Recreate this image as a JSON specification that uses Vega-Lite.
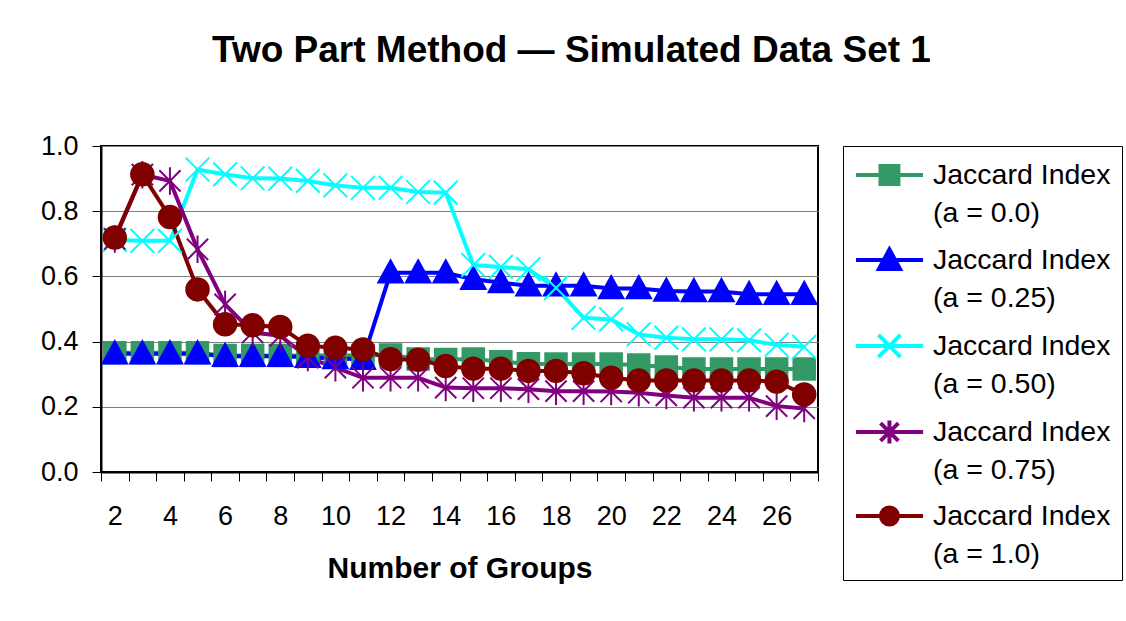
{
  "$schema": "https://vega.github.io/schema/vega-lite/v6.json",
  "width": 717,
  "height": 326,
  "padding": {"left": 40, "top": 32, "right": 5, "bottom": 5},
  "background": "white",
  "title": {
    "text": "Two Part Method — Simulated Data Set 1",
    "font": "Liberation Sans",
    "fontSize": 37,
    "fontWeight": "bold",
    "color": "black",
    "anchor": "middle",
    "frame": "bounds",
    "offset": 62,
    "dx": -10
  },
  "config": {
    "view": {"stroke": "black", "strokeWidth": 2},
    "font": "Liberation Sans",
    "axis": {
      "labelFont": "Liberation Sans",
      "labelFontSize": 27,
      "labelColor": "black",
      "titleFont": "Liberation Sans",
      "titleColor": "black",
      "domainColor": "black",
      "domainWidth": 2,
      "tickColor": "black",
      "tickWidth": 1,
      "tickSize": 9
    },
    "legend": {
      "labelFont": "Liberation Sans",
      "labelFontSize": 28.5,
      "labelColor": "black"
    }
  },
  "data": {
    "values": [
      {"groups": 2, "series": "a = 0.0", "jaccard": 0.366},
      {"groups": 3, "series": "a = 0.0", "jaccard": 0.366},
      {"groups": 4, "series": "a = 0.0", "jaccard": 0.366},
      {"groups": 5, "series": "a = 0.0", "jaccard": 0.366},
      {"groups": 6, "series": "a = 0.0", "jaccard": 0.357},
      {"groups": 7, "series": "a = 0.0", "jaccard": 0.357},
      {"groups": 8, "series": "a = 0.0", "jaccard": 0.357},
      {"groups": 9, "series": "a = 0.0", "jaccard": 0.357},
      {"groups": 10, "series": "a = 0.0", "jaccard": 0.357},
      {"groups": 11, "series": "a = 0.0", "jaccard": 0.357},
      {"groups": 12, "series": "a = 0.0", "jaccard": 0.359},
      {"groups": 13, "series": "a = 0.0", "jaccard": 0.347},
      {"groups": 14, "series": "a = 0.0", "jaccard": 0.345},
      {"groups": 15, "series": "a = 0.0", "jaccard": 0.347},
      {"groups": 16, "series": "a = 0.0", "jaccard": 0.338},
      {"groups": 17, "series": "a = 0.0", "jaccard": 0.332},
      {"groups": 18, "series": "a = 0.0", "jaccard": 0.331},
      {"groups": 19, "series": "a = 0.0", "jaccard": 0.331},
      {"groups": 20, "series": "a = 0.0", "jaccard": 0.331},
      {"groups": 21, "series": "a = 0.0", "jaccard": 0.328},
      {"groups": 22, "series": "a = 0.0", "jaccard": 0.322},
      {"groups": 23, "series": "a = 0.0", "jaccard": 0.316},
      {"groups": 24, "series": "a = 0.0", "jaccard": 0.316},
      {"groups": 25, "series": "a = 0.0", "jaccard": 0.316},
      {"groups": 26, "series": "a = 0.0", "jaccard": 0.316},
      {"groups": 27, "series": "a = 0.0", "jaccard": 0.316},

      {"groups": 2, "series": "a = 0.25", "jaccard": 0.363},
      {"groups": 3, "series": "a = 0.25", "jaccard": 0.363},
      {"groups": 4, "series": "a = 0.25", "jaccard": 0.363},
      {"groups": 5, "series": "a = 0.25", "jaccard": 0.363},
      {"groups": 6, "series": "a = 0.25", "jaccard": 0.355},
      {"groups": 7, "series": "a = 0.25", "jaccard": 0.355},
      {"groups": 8, "series": "a = 0.25", "jaccard": 0.355},
      {"groups": 9, "series": "a = 0.25", "jaccard": 0.352},
      {"groups": 10, "series": "a = 0.25", "jaccard": 0.348},
      {"groups": 11, "series": "a = 0.25", "jaccard": 0.346},
      {"groups": 12, "series": "a = 0.25", "jaccard": 0.611},
      {"groups": 13, "series": "a = 0.25", "jaccard": 0.611},
      {"groups": 14, "series": "a = 0.25", "jaccard": 0.611},
      {"groups": 15, "series": "a = 0.25", "jaccard": 0.591},
      {"groups": 16, "series": "a = 0.25", "jaccard": 0.581},
      {"groups": 17, "series": "a = 0.25", "jaccard": 0.571},
      {"groups": 18, "series": "a = 0.25", "jaccard": 0.571},
      {"groups": 19, "series": "a = 0.25", "jaccard": 0.571},
      {"groups": 20, "series": "a = 0.25", "jaccard": 0.563},
      {"groups": 21, "series": "a = 0.25", "jaccard": 0.563},
      {"groups": 22, "series": "a = 0.25", "jaccard": 0.555},
      {"groups": 23, "series": "a = 0.25", "jaccard": 0.554},
      {"groups": 24, "series": "a = 0.25", "jaccard": 0.554},
      {"groups": 25, "series": "a = 0.25", "jaccard": 0.545},
      {"groups": 26, "series": "a = 0.25", "jaccard": 0.545},
      {"groups": 27, "series": "a = 0.25", "jaccard": 0.545},

      {"groups": 2, "series": "a = 0.50", "jaccard": 0.712},
      {"groups": 3, "series": "a = 0.50", "jaccard": 0.709},
      {"groups": 4, "series": "a = 0.50", "jaccard": 0.709},
      {"groups": 5, "series": "a = 0.50", "jaccard": 0.928},
      {"groups": 6, "series": "a = 0.50", "jaccard": 0.913},
      {"groups": 7, "series": "a = 0.50", "jaccard": 0.901},
      {"groups": 8, "series": "a = 0.50", "jaccard": 0.900},
      {"groups": 9, "series": "a = 0.50", "jaccard": 0.893},
      {"groups": 10, "series": "a = 0.50", "jaccard": 0.879},
      {"groups": 11, "series": "a = 0.50", "jaccard": 0.872},
      {"groups": 12, "series": "a = 0.50", "jaccard": 0.872},
      {"groups": 13, "series": "a = 0.50", "jaccard": 0.859},
      {"groups": 14, "series": "a = 0.50", "jaccard": 0.857},
      {"groups": 15, "series": "a = 0.50", "jaccard": 0.635},
      {"groups": 16, "series": "a = 0.50", "jaccard": 0.629},
      {"groups": 17, "series": "a = 0.50", "jaccard": 0.622},
      {"groups": 18, "series": "a = 0.50", "jaccard": 0.565},
      {"groups": 19, "series": "a = 0.50", "jaccard": 0.473},
      {"groups": 20, "series": "a = 0.50", "jaccard": 0.468},
      {"groups": 21, "series": "a = 0.50", "jaccard": 0.422},
      {"groups": 22, "series": "a = 0.50", "jaccard": 0.412},
      {"groups": 23, "series": "a = 0.50", "jaccard": 0.407},
      {"groups": 24, "series": "a = 0.50", "jaccard": 0.407},
      {"groups": 25, "series": "a = 0.50", "jaccard": 0.404},
      {"groups": 26, "series": "a = 0.50", "jaccard": 0.390},
      {"groups": 27, "series": "a = 0.50", "jaccard": 0.384},

      {"groups": 2, "series": "a = 0.75", "jaccard": 0.715},
      {"groups": 3, "series": "a = 0.75", "jaccard": 0.912},
      {"groups": 4, "series": "a = 0.75", "jaccard": 0.893},
      {"groups": 5, "series": "a = 0.75", "jaccard": 0.683},
      {"groups": 6, "series": "a = 0.75", "jaccard": 0.514},
      {"groups": 7, "series": "a = 0.75", "jaccard": 0.428},
      {"groups": 8, "series": "a = 0.75", "jaccard": 0.418},
      {"groups": 9, "series": "a = 0.75", "jaccard": 0.351},
      {"groups": 10, "series": "a = 0.75", "jaccard": 0.320},
      {"groups": 11, "series": "a = 0.75", "jaccard": 0.289},
      {"groups": 12, "series": "a = 0.75", "jaccard": 0.289},
      {"groups": 13, "series": "a = 0.75", "jaccard": 0.289},
      {"groups": 14, "series": "a = 0.75", "jaccard": 0.259},
      {"groups": 15, "series": "a = 0.75", "jaccard": 0.257},
      {"groups": 16, "series": "a = 0.75", "jaccard": 0.257},
      {"groups": 17, "series": "a = 0.75", "jaccard": 0.254},
      {"groups": 18, "series": "a = 0.75", "jaccard": 0.248},
      {"groups": 19, "series": "a = 0.75", "jaccard": 0.248},
      {"groups": 20, "series": "a = 0.75", "jaccard": 0.247},
      {"groups": 21, "series": "a = 0.75", "jaccard": 0.243},
      {"groups": 22, "series": "a = 0.75", "jaccard": 0.235},
      {"groups": 23, "series": "a = 0.75", "jaccard": 0.228},
      {"groups": 24, "series": "a = 0.75", "jaccard": 0.228},
      {"groups": 25, "series": "a = 0.75", "jaccard": 0.228},
      {"groups": 26, "series": "a = 0.75", "jaccard": 0.202},
      {"groups": 27, "series": "a = 0.75", "jaccard": 0.195},

      {"groups": 2, "series": "a = 1.0", "jaccard": 0.719},
      {"groups": 3, "series": "a = 1.0", "jaccard": 0.913},
      {"groups": 4, "series": "a = 1.0", "jaccard": 0.782},
      {"groups": 5, "series": "a = 1.0", "jaccard": 0.560},
      {"groups": 6, "series": "a = 1.0", "jaccard": 0.453},
      {"groups": 7, "series": "a = 1.0", "jaccard": 0.450},
      {"groups": 8, "series": "a = 1.0", "jaccard": 0.445},
      {"groups": 9, "series": "a = 1.0", "jaccard": 0.387},
      {"groups": 10, "series": "a = 1.0", "jaccard": 0.381},
      {"groups": 11, "series": "a = 1.0", "jaccard": 0.376},
      {"groups": 12, "series": "a = 1.0", "jaccard": 0.346},
      {"groups": 13, "series": "a = 1.0", "jaccard": 0.344},
      {"groups": 14, "series": "a = 1.0", "jaccard": 0.325},
      {"groups": 15, "series": "a = 1.0", "jaccard": 0.317},
      {"groups": 16, "series": "a = 1.0", "jaccard": 0.317},
      {"groups": 17, "series": "a = 1.0", "jaccard": 0.310},
      {"groups": 18, "series": "a = 1.0", "jaccard": 0.310},
      {"groups": 19, "series": "a = 1.0", "jaccard": 0.303},
      {"groups": 20, "series": "a = 1.0", "jaccard": 0.289},
      {"groups": 21, "series": "a = 1.0", "jaccard": 0.281},
      {"groups": 22, "series": "a = 1.0", "jaccard": 0.281},
      {"groups": 23, "series": "a = 1.0", "jaccard": 0.281},
      {"groups": 24, "series": "a = 1.0", "jaccard": 0.281},
      {"groups": 25, "series": "a = 1.0", "jaccard": 0.281},
      {"groups": 26, "series": "a = 1.0", "jaccard": 0.277},
      {"groups": 27, "series": "a = 1.0", "jaccard": 0.238}
    ]
  },
  "encoding": {
    "x": {
      "field": "groups",
      "type": "ordinal",
      "scale": {"type": "band", "paddingInner": 0, "paddingOuter": 0},
      "axis": {
        "title": "Number of Groups",
        "titleFontSize": 30,
        "titleFontWeight": "bold",
        "titlePadding": 24,
        "labelAngle": 0,
        "labelPadding": 22,
        "tickBand": "extent",
        "labelExpr": "datum.value % 2 == 0 ? datum.label : ''",
        "grid": false
      }
    },
    "y": {
      "field": "jaccard",
      "type": "quantitative",
      "scale": {"domain": [0, 1], "nice": false, "zero": true},
      "axis": {
        "title": null,
        "values": [0, 0.2, 0.4, 0.6, 0.8, 1.0],
        "format": ".1f",
        "labelPadding": 14,
        "grid": true,
        "gridColor": "#808080",
        "gridWidth": 1.2
      }
    },
    "color": {
      "field": "series",
      "type": "nominal",
      "scale": {
        "domain": ["a = 0.0", "a = 0.25", "a = 0.50", "a = 0.75", "a = 1.0"],
        "range": ["#339966", "#0000FF", "#00FFFF", "#800080", "#800000"]
      },
      "legend": {
        "title": null,
        "orient": "right",
        "offset": 25,
        "padding": 11,
        "strokeColor": "black",
        "fillColor": "white",
        "symbolSize": 1024,
        "symbolStrokeWidth": 4,
        "symbolOpacity": 1,
        "labelOffset": 43,
        "labelLimit": 400,
        "rowPadding": 13,
        "labelExpr": "['Jaccard Index', '(' + datum.label + ')']",
        "encode": {
          "labels": {
            "update": {"lineHeight": {"value": 38}}
          },
          "symbols": {
            "update": {
              "shape": {"signal": "datum.value == 'a = 0.0' ? 'M-1,0H3.19M0.53,-0.56H1.65V0.56H0.53Z' : datum.value == 'a = 0.25' ? 'M-1,0H3.19M1.09,-0.66L1.75,0.56H0.43Z' : datum.value == 'a = 0.50' ? 'M-1,0H3.19M0.4,-0.69L1.78,0.69M0.4,0.69L1.78,-0.69' : datum.value == 'a = 0.75' ? 'M-1,0H3.19M0.53,-0.56L1.65,0.56M0.53,0.56L1.65,-0.56M1.09,-0.72V0.72' : 'M-1,0H3.19M0.56,0A0.53,0.53,0,1,0,1.62,0A0.53,0.53,0,1,0,0.56,0Z'"},
              "fill": {"signal": "scale('color', datum.value)"},
              "stroke": {"signal": "scale('color', datum.value)"},
              "strokeWidth": {"value": 4},
              "opacity": {"value": 1}
            }
          }
        }
      }
    }
  },
  "layer": [
    {
      "mark": {"type": "line", "strokeWidth": 4},
      "encoding": {}
    },
    {
      "mark": {"type": "point", "filled": true, "size": 625, "strokeWidth": 2, "opacity": 1},
      "encoding": {
        "shape": {
          "field": "series",
          "type": "nominal",
          "scale": {
            "domain": ["a = 1.0", "a = 0.75", "a = 0.50", "a = 0.25", "a = 0.0"],
            "range": [
              "M-0.9,0A0.9,0.9,0,1,0,0.9,0A0.9,0.9,0,1,0,-0.9,0Z",
              "M-0.85,-0.85L0.85,0.85M-0.85,0.85L0.85,-0.85M0,-1.1V1.1",
              "M-0.95,-0.95L0.95,0.95M-0.95,0.95L0.95,-0.95",
              "M0,-1L0.98,0.78H-0.98Z",
              "M-0.86,-0.86H0.86V0.86H-0.86Z"
            ]
          },
          "legend": null
        },
        "stroke": {
          "field": "series",
          "type": "nominal",
          "scale": {
            "domain": ["a = 1.0", "a = 0.75", "a = 0.50", "a = 0.25", "a = 0.0"],
            "range": ["#800000", "#800080", "#00FFFF", "#0000FF", "#339966"]
          },
          "legend": null
        }
      }
    }
  ]
}
